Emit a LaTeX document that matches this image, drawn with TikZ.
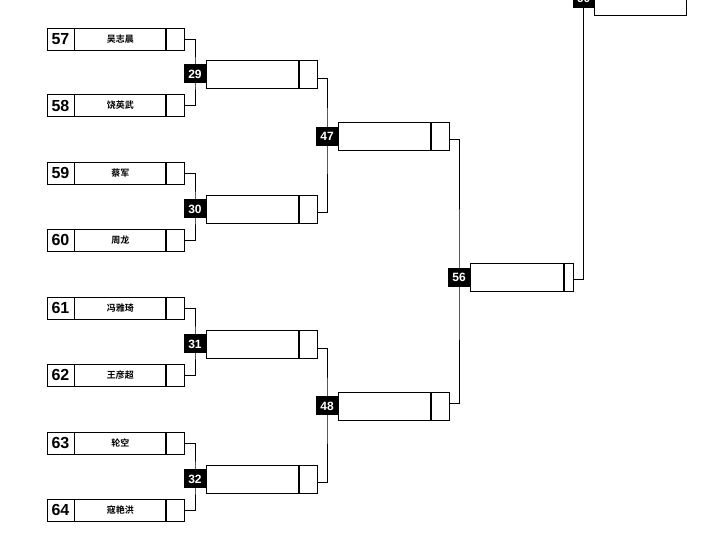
\documentclass[tikz,border=0pt]{standalone}
\usepackage{fontspec}
\setmainfont{Liberation Sans}
\newfontfamily\cjk{Noto Sans CJK SC}[BoldFont={Noto Sans CJK SC Bold}]
\begin{document}
\begin{tikzpicture}[x=1pt,y=-1pt,line width=0.8pt,
  cell/.style={draw=black,line width=0.8pt,rectangle,inner sep=0pt,minimum height=22pt,fill=white},
  numcell/.style={cell,minimum width=27pt,font=\fontsize{16}{16}\selectfont\bfseries},
  namecell/.style={cell,minimum width=91pt,font=\cjk\bfseries\fontsize{9}{9}\selectfont},
  smallcell/.style={cell,minimum width=18pt},
  rmain/.style={draw=black,line width=0.8pt,rectangle,inner sep=0pt,minimum height=28pt,minimum width=92pt,fill=white},
  rsmall/.style={draw=black,line width=0.8pt,rectangle,inner sep=0pt,minimum height=28pt,minimum width=18pt,fill=white},
  lab/.style={fill=black,text=white,inner sep=0pt,minimum width=22pt,minimum height=19pt,font=\fontsize{12}{12}\selectfont\bfseries},
  conn/.style={draw=black,line width=0.8pt}]
\path[use as bounding box,clip] (0,0) rectangle (724,534);

% round 1 entries
\foreach \n/\y/\nm in {57/39/吴志晨,58/105.5/饶英武,59/173/蔡军,60/240/周龙,61/308/冯雅琦,62/375/王彦超,63/443/轮空,64/510/寇艳洪}{
  \node[numcell] (n\n) at (60.5,\y) {\n};
  \node[namecell,anchor=west] (m\n) at (n\n.east) {\nm};
  \node[smallcell,anchor=west] (s\n) at (m\n.east) {};
}

% round 2 boxes
\foreach \n/\y in {29/74,30/209,31/344,32/479}{
  \node[rmain,anchor=west] (r\n) at (206,\y) {};
  \node[rsmall,anchor=west] (q\n) at (r\n.east) {};
}
% round 3 boxes
\foreach \n/\y in {47/136,48/406}{
  \node[rmain,anchor=west] (r\n) at (338,\y) {};
  \node[rsmall,anchor=west] (q\n) at (r\n.east) {};
}
% round 4
\node[rmain,anchor=west,minimum width=93pt] (r56) at (470,277) {};
\node[rsmall,anchor=west,minimum width=9pt] (q56) at (r56.east) {};
% final
\node[rmain,anchor=west] (r60) at (594,1) {};

% labels (coordinates)
\coordinate (c29) at (195,74);
\coordinate (c30) at (195,209);
\coordinate (c31) at (195,344);
\coordinate (c32) at (195,479);
\coordinate (c47) at (327,136.5);
\coordinate (c48) at (327,406);
\coordinate (c56) at (459,277.5);
\coordinate (c60) at (583.5,-1.5);

% connectors round 1
\draw[conn] (s57.east) -| (c29) |- (s58.east);
\draw[conn] (s59.east) -| (c30) |- (s60.east);
\draw[conn] (s61.east) -| (c31) |- (s62.east);
\draw[conn] (s63.east) -| (c32) |- (s64.east);
% round 2
\draw[conn] ([yshift=-4pt]q29.east) -| (c47) |- ([yshift=-3pt]q30.east);
\draw[conn] ([yshift=-4pt]q31.east) -| (c48) |- ([yshift=-3pt]q32.east);
% round 3
\draw[conn] ([yshift=-3pt]q47.east) -| (c56) |- ([yshift=3pt]q48.east);
% round 4
\draw[conn] ([yshift=-2pt]q56.east) -| (c60);

% label nodes
\foreach \n in {29,30,31,32,47,48,56,60}{
  \node[lab] (l\n) at (c\n) {\n};
}
\end{tikzpicture}
\end{document}
